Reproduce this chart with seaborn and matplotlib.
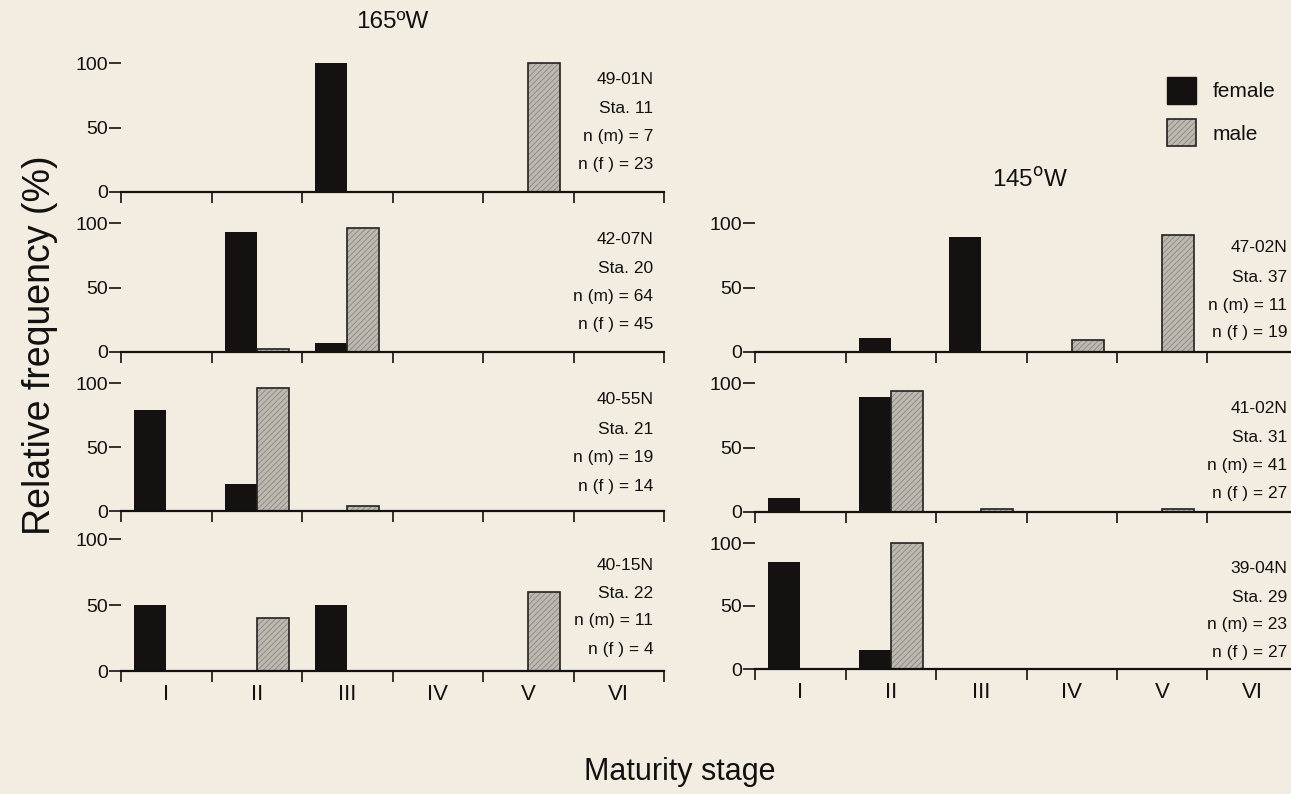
import numpy as np
import pandas as pd
import matplotlib
matplotlib.use("Agg")
import matplotlib.pyplot as plt
import matplotlib.patches as mpatches
from matplotlib.colors import to_hex
import seaborn as sns

# maturity stages on the x axis
stages = ["I", "II", "III", "IV", "V", "VI"]

# 165W column, relative frequency (%) per stage
sta11_female = [0, 0, 100, 0, 0, 0]
sta11_male = [0, 0, 0, 0, 100, 0]
sta20_female = [0, 93, 7, 0, 0, 0]
sta20_male = [0, 2, 96, 0, 0, 0]
sta21_female = [79, 21, 0, 0, 0, 0]
sta21_male = [0, 96, 4, 0, 0, 0]
sta22_female = [50, 0, 50, 0, 0, 0]
sta22_male = [0, 40, 0, 0, 60, 0]

# 145W column
sta37_female = [0, 11, 89, 0, 0, 0]
sta37_male = [0, 0, 0, 9, 91, 0]
sta31_female = [11, 89, 0, 0, 0, 0]
sta31_male = [0, 94, 2, 0, 2, 0]
sta29_female = [85, 15, 0, 0, 0, 0]
sta29_male = [0, 100, 0, 0, 0, 0]

# station labels
info_165 = [["49-01N", "Sta. 11", "n (m) = 7", "n (f ) = 23"],
            ["42-07N", "Sta. 20", "n (m) = 64", "n (f ) = 45"],
            ["40-55N", "Sta. 21", "n (m) = 19", "n (f ) = 14"],
            ["40-15N", "Sta. 22", "n (m) = 11", "n (f ) = 4"]]
info_145 = [["47-02N", "Sta. 37", "n (m) = 11", "n (f ) = 19"],
            ["41-02N", "Sta. 31", "n (m) = 41", "n (f ) = 27"],
            ["39-04N", "Sta. 29", "n (m) = 23", "n (f ) = 27"]]

FEMALE = "#151111"
MALE = "#bdb9b1"
BG = "#f3ede1"
INK = "#111111"

sns.set_style("ticks")
plt.rcParams["font.family"] = ["Liberation Sans", "DejaVu Sans"]
plt.rcParams["hatch.linewidth"] = 0.6
plt.rcParams["text.color"] = INK
plt.rcParams["xtick.color"] = INK
plt.rcParams["ytick.color"] = INK
plt.rcParams["xtick.labelcolor"] = INK
plt.rcParams["ytick.labelcolor"] = INK

W, H = 1291, 794
fig = plt.figure(figsize=(W / 100, H / 100), dpi=100, facecolor=BG)


def make_df(female, male):
    return pd.DataFrame({
        "stage": stages * 2,
        "freq": female + male,
        "sex": ["female"] * 6 + ["male"] * 6,
    })


def panel(left_px, top_px, bottom_px, female, male, info, text_y, bottom_row):
    ax = fig.add_axes([left_px / W, 1 - bottom_px / H, 543 / W, (bottom_px - top_px) / H])
    ax.set_facecolor("none")
    sns.barplot(data=make_df(female, male), x="stage", y="freq", hue="sex",
                order=stages, hue_order=["female", "male"],
                palette={"female": FEMALE, "male": MALE}, saturation=1,
                width=0.71, dodge=True, legend=False, linewidth=0, ax=ax)
    for p in list(ax.patches):
        if p.get_height() <= 0:
            p.set_visible(False)
            continue
        p.set_clip_on(False)
        if to_hex(p.get_facecolor()) == MALE:
            p.set_hatch("//////")
            p.set_edgecolor("#8a857d")
            ax.add_patch(mpatches.Rectangle((p.get_x(), p.get_y()), p.get_width(), p.get_height(),
                                            fill=False, edgecolor="#222222", lw=1.2, clip_on=False))
    ax.set_xlim(-0.5, 5.5)
    ax.set_ylim(0, 100)
    ax.set_yticks([0, 50, 100])
    ax.set_xticks(np.arange(6))
    ax.set_xticklabels(stages if bottom_row else [], fontsize=16)
    ax.set_xticks(np.arange(-0.5, 6.0, 1), minor=True)
    ax.tick_params(axis="x", which="major", length=0, pad=9)
    ax.tick_params(axis="x", which="minor", length=8, width=1.2, direction="out")
    ax.tick_params(axis="y", length=8.5, width=1.2, pad=1, labelsize=14, direction="out")
    ax.set_xlabel("")
    ax.set_ylabel("")
    for s in ["top", "right", "left"]:
        ax.spines[s].set_visible(False)
    ax.spines["bottom"].set_linewidth(1.6)
    ax.spines["bottom"].set_color(INK)
    for txt, yy in zip(info, text_y):
        ax.text(5.38, yy, txt, ha="right", va="center", fontsize=12.5)
    return ax


# left column: 165W
left_rows = [(63, 192), (223, 352), (383, 511), (539, 671)]
left_data = [(sta11_female, sta11_male), (sta20_female, sta20_male),
             (sta21_female, sta21_male), (sta22_female, sta22_male)]
left_ty = [[87, 65, 43, 21], [87, 65, 43, 21], [87, 64, 42, 19], [80, 59, 38, 16]]
for i, ((t, b), (f, m)) in enumerate(zip(left_rows, left_data)):
    panel(121, t, b, f, m, info_165[i], left_ty[i], i == 3)

# right column: 145W (runs past the right edge of the page)
right_rows = [(223, 352), (383, 512), (543, 669)]
right_data = [(sta37_female, sta37_male), (sta31_female, sta31_male), (sta29_female, sta29_male)]
right_ty = [[81, 58, 36, 15], [80, 58, 36, 14], [80, 57, 35, 13]]
for i, ((t, b), (f, m)) in enumerate(zip(right_rows, right_data)):
    panel(755, t, b, f, m, info_145[i], right_ty[i], i == 2)

# titles and shared labels
fig.text(392 / W, 1 - 22 / H, "165ºW", ha="center", va="center", fontsize=17.5)
fig.text(1030 / W, 1 - 180 / H, r"145$^{\mathrm{o}}$W", ha="center", va="center", fontsize=17.5)
fig.text(40 / W, 1 - 345 / H, "Relative frequency (%)", rotation=90,
         ha="center", va="center", fontsize=27)
fig.text(680 / W, 1 - 772 / H, "Maturity stage", ha="center", va="center", fontsize=22)

# legend
h_f = mpatches.Patch(facecolor=FEMALE, edgecolor=FEMALE)
h_m1 = mpatches.Patch(facecolor=MALE, edgecolor="#8a857d", hatch="//////", lw=0)
h_m2 = mpatches.Patch(fill=False, edgecolor="#222222", lw=1.2)
fig.legend([h_f, (h_m1, h_m2)], ["female", "male"], loc="upper left",
           bbox_to_anchor=(1167 / W, 1 - 77 / H), frameon=False, fontsize=15,
           handlelength=1.4, handleheight=1.6, handletextpad=0.8,
           labelspacing=0.75, borderpad=0, borderaxespad=0)

fig.savefig("out.png", dpi=100, facecolor=BG)
